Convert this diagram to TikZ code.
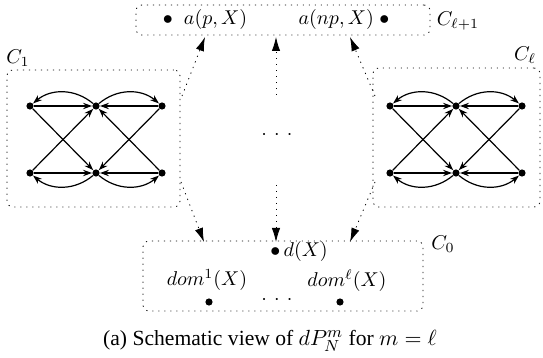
\documentclass[tikz,border=0pt]{standalone}
\usepackage[no-math]{fontspec}
\setmainfont{Liberation Serif}
\usetikzlibrary{arrows.meta, positioning}
\tikzset{dot/.style={circle,fill,inner sep=0pt,minimum size=3.6pt},edge/.style={-{Stealth[length=4.5pt,width=3.2pt]},semithick},group/.style={draw,rounded corners=3pt,dash pattern=on 0.6pt off 2.4pt,inner sep=0pt},link/.style={dash pattern=on 0.6pt off 2.4pt,-{Latex[length=7pt,width=4.2pt]}}}
\newcommand{\threedots}{${\cdot}\kern3.6pt{\cdot}\kern3.6pt{\cdot}$}

\begin{document}
\begin{tikzpicture}[x=0.5pt,y=-0.5pt,node distance=29.5pt and 29pt]
\useasboundingbox (0,0) rectangle (543,358);
% groups
\node[group, minimum width=86.5pt, minimum height=68.5pt] (C1) at (93.5,138.5) {};
\node[group, minimum width=83.5pt, minimum height=69.5pt] (Cl) at (456.5,137.5) {};
\node[group, minimum width=147pt, minimum height=15pt] (top) at (283,20) {};
\node[group, minimum width=140pt, minimum height=35pt] (C0) at (283,276) {};
\node at (18,58) {$C_1$};
\node at (525,55) {$C_\ell$};
\node at (458,21) {$C_{\ell+1}$};
\node at (443,244) {$C_0$};
% gadget C_1
\node[dot] (a1) at (30,106) {};
\node[dot, right=of a1] (b1) {};
\node[dot, right=of b1] (c1) {};
\node[dot, below=of a1] (d1) {};
\node[dot, right=of d1] (e1) {};
\node[dot, right=of e1] (f1) {};
\draw[edge] (a1) -- (b1);
\draw[edge] (c1) -- (b1);
\draw[edge] (d1) -- (e1);
\draw[edge] (f1) -- (e1);
\draw[edge] (a1) -- (e1);
\draw[edge] (d1) -- (b1);
\draw[edge] (c1) -- (e1);
\draw[edge] (f1) -- (b1);
\draw[edge] (b1) to[bend right=40] (a1);
\draw[edge] (b1) to[bend left=40] (c1);
\draw[edge] (e1) to[bend left=40] (d1);
\draw[edge] (e1) to[bend right=40] (f1);
% gadget C_l
\node[dot] (al) at (390,106) {};
\node[dot, right=of al] (bl) {};
\node[dot, right=of bl] (cl) {};
\node[dot, below=of al] (dl) {};
\node[dot, right=of dl] (el) {};
\node[dot, right=of el] (fl) {};
\draw[edge] (al) -- (bl);
\draw[edge] (cl) -- (bl);
\draw[edge] (dl) -- (el);
\draw[edge] (fl) -- (el);
\draw[edge] (al) -- (el);
\draw[edge] (dl) -- (bl);
\draw[edge] (cl) -- (el);
\draw[edge] (fl) -- (bl);
\draw[edge] (bl) to[bend right=40] (al);
\draw[edge] (bl) to[bend left=40] (cl);
\draw[edge] (el) to[bend left=40] (dl);
\draw[edge] (el) to[bend right=40] (fl);
% top group C_{l+1}
\node (ap) at (205,20) {$\bullet\;\; a(p,X)$};
\node (anp) at (344,20) {$a(np,X)\; \bullet$};
% bottom group C_0
\node (d) at (299,252) {$\bullet\, d(X)$};
\node (dom1) at (207,280) {$dom^1(X)$};
\node (doml) at (347,281) {$dom^\ell(X)$};
\node[dot] (x1) at (209,302) {};
\node[dot] (xl) at (340,302) {};
\node (xdots) at (277,300) {\threedots};
\node (mid) at (277,135) {\threedots};
% links
\coordinate (s1) at (182,96);
\coordinate (t1) at (205,37);
\coordinate (s2) at (276,95);
\coordinate (t2) at (276,37);
\coordinate (s3) at (375,96);
\coordinate (t3) at (350,37);
\coordinate (s4) at (181,182);
\coordinate (t4) at (204,242);
\coordinate (s5) at (276,185);
\coordinate (t5) at (276,242);
\coordinate (s6) at (375,182);
\coordinate (t6) at (350,242);
\draw[link] (s1) -- (t1);
\draw[link] (s2) -- (t2);
\draw[link] (s3) -- (t3);
\draw[link] (s4) -- (t4);
\draw[link] (s5) -- (t5);
\draw[link] (s6) -- (t6);
\node[font=\fontsize{10.8}{13}\selectfont] (cap) at (270,341) {(a) Schematic view of $dP_N^m$ for $m=\ell$};
\end{tikzpicture}
\end{document}
